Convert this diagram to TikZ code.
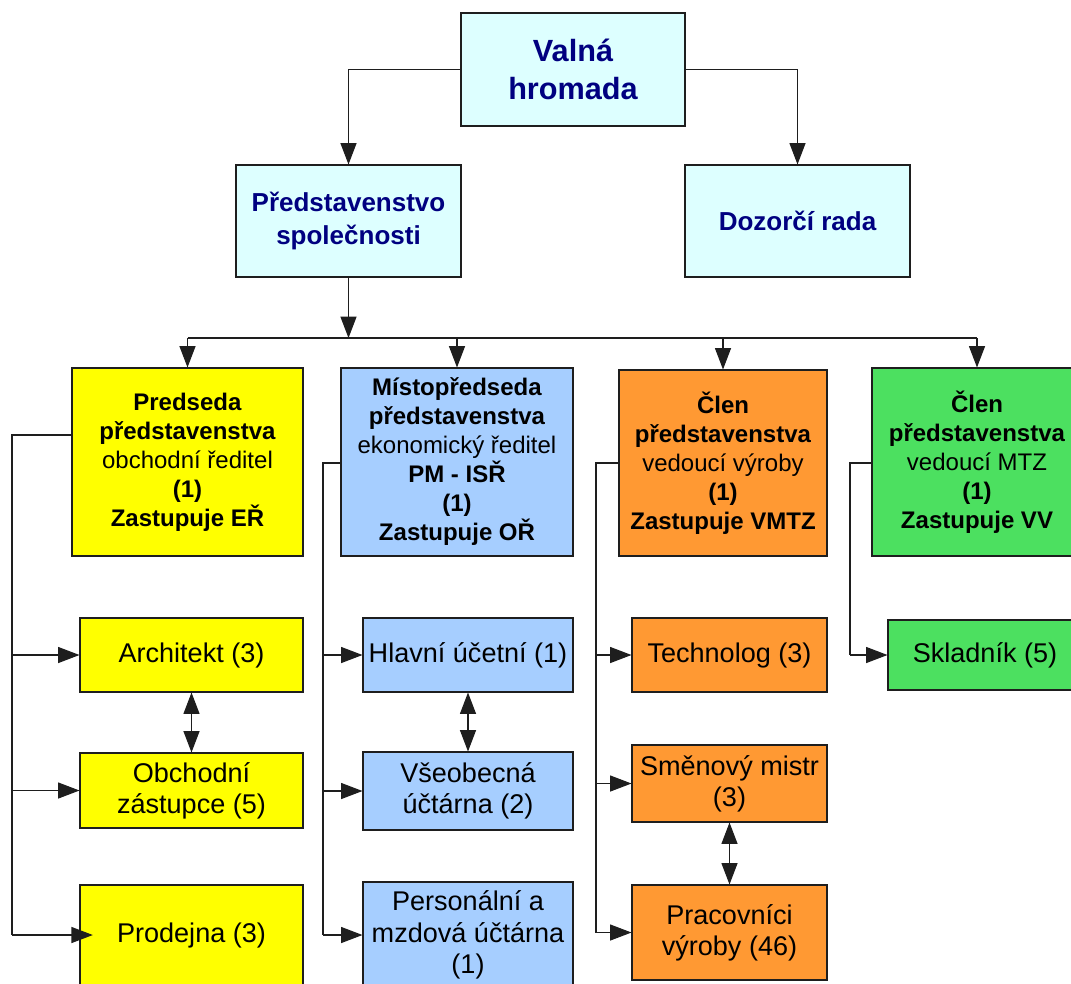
\documentclass[tikz,border=0pt]{standalone}
\usepackage{fontspec}
\setmainfont{Liberation Sans}
\usetikzlibrary{arrows.meta}
\definecolor{cyanfill}{RGB}{221,255,255}
\definecolor{navytxt}{RGB}{0,0,128}
\definecolor{yel}{RGB}{255,255,0}
\definecolor{blu}{RGB}{166,206,255}
\definecolor{ora}{RGB}{255,153,51}
\definecolor{grn}{RGB}{76,224,96}
\definecolor{edge}{RGB}{30,30,30}
\tikzset{
  sz/.style 2 args={minimum width=#1*0.75pt, minimum height=#2*0.75pt},
  box/.style={draw=edge, line width=0.8pt, inner sep=2pt, align=center, text=black},
  topbox/.style={box, fill=cyanfill, text=navytxt, font=\bfseries\fontsize{19.5}{24.75}\selectfont},
  midbox/.style={box, font=\fontsize{18}{21.75}\selectfont},
  lowbox/.style={box, font=\fontsize{20.3}{23.5}\selectfont},
  line/.style={draw=edge, line width=0.8pt},
  arr/.style={line, -{Triangle[length=16pt,width=12pt]}},
  darr/.style={line, {Triangle[length=16pt,width=12pt]}-{Triangle[length=16pt,width=12pt]}}
}
\begin{document}
\begin{tikzpicture}[x=0.75pt,y=-0.75pt]
\useasboundingbox (0,0) rectangle (1071,983);
\clip (0,0) rectangle (1071,983);
\fill[white] (0,0) rectangle (1071,983);

% top level
\node[topbox, sz={224}{113}, font=\bfseries\fontsize{23}{28.5}\selectfont] (vh) at (573,69.5) {Valná\\hromada};
\node[topbox, sz={225}{112}] (ps) at (348.5,221) {Představenstvo\\společnosti};
\node[topbox, sz={225}{112}] (dr) at (797.5,221) {Dozorčí rada};

% second level
\node[midbox, fill=yel, sz={231}{188}] (pred) at (187.5,462) {\textbf{Predseda}\\\textbf{představenstva}\\obchodní ředitel\\\textbf{(1)}\\\textbf{Zastupuje EŘ}};
\node[midbox, fill=blu, sz={232}{188}] (mist) at (457,462) {\textbf{Místopředseda}\\\textbf{představenstva}\\ekonomický ředitel\\\textbf{PM - ISŘ}\\\textbf{(1)}\\\textbf{Zastupuje OŘ}};
\node[midbox, fill=ora, sz={208}{186}] (clv) at (723,463) {\textbf{Člen}\\\textbf{představenstva}\\vedoucí výroby\\\textbf{(1)}\\\textbf{Zastupuje VMTZ}};
\node[midbox, fill=grn, sz={210}{188}] (clm) at (977,462) {\textbf{Člen}\\\textbf{představenstva}\\vedoucí MTZ\\\textbf{(1)}\\\textbf{Zastupuje VV}};

% third level
\node[lowbox, fill=yel, sz={223}{74}] (arch) at (191.5,655) {Architekt (3)};
\node[lowbox, fill=yel, sz={223}{75}] (obch) at (191.5,790.5) {Obchodní\\zástupce (5)};
\node[lowbox, fill=yel, sz={223}{100}] (prod) at (191.5,935) {Prodejna (3)};
\node[lowbox, fill=blu, sz={210}{74}] (hlav) at (468,655) {Hlavní účetní (1)};
\node[lowbox, fill=blu, sz={210}{78}] (vseo) at (468,791) {Všeobecná\\účtárna (2)};
\node[lowbox, fill=blu, sz={210}{106}] (pers) at (468,935) {Personální a\\mzdová účtárna\\(1)};
\node[lowbox, fill=ora, sz={195}{74}] (tech) at (729.5,655) {Technolog (3)};
\node[lowbox, fill=ora, sz={195}{77}] (smen) at (729.5,783.5) {Směnový mistr\\(3)};
\node[lowbox, fill=ora, sz={195}{95}] (prac) at (729.5,932.5) {Pracovníci\\výroby (46)};
\node[lowbox, fill=grn, sz={194}{70}] (skla) at (985,655) {Skladník (5)};

% top connectors
\draw[arr] (vh.west) -| (ps.north);
\draw[arr] (vh.east) -| (dr.north);

% bus
\coordinate (bus) at (348.5,338);
\draw[arr] (ps.south) -- (bus);
\draw[line] (pred.north |- bus) -- (clm.north |- bus);
\draw[arr] (pred.north |- bus) -- (pred.north);
\draw[arr] (mist.north |- bus) -- (mist.north);
\draw[arr] (clv.north |- bus) -- (clv.north);
\draw[arr] (clm.north |- bus) -- (clm.north);

% yellow branch
\coordinate (ya) at (12,435);
\draw[line] (pred.west |- ya) -- (ya) -- (ya |- prod.west);
\draw[arr] (ya |- arch.west) -- (arch.west);
\draw[arr] (ya |- obch.west) -- (obch.west);
\draw[arr, shorten >=-10pt] (ya |- prod.west) -- (prod.west);
\draw[darr] (arch.south) -- (obch.north);

% blue branch
\coordinate (ba) at (323,463);
\draw[line] (mist.west |- ba) -- (ba) -- (ba |- pers.west);
\draw[arr] (ba |- hlav.west) -- (hlav.west);
\draw[arr] (ba |- vseo.west) -- (vseo.west);
\draw[arr] (ba |- pers.west) -- (pers.west);
\draw[darr] (hlav.south) -- (vseo.north);

% orange branch
\coordinate (oa) at (596,463);
\draw[line] (clv.west |- oa) -- (oa) -- (oa |- prac.west);
\draw[arr] (oa |- tech.west) -- (tech.west);
\draw[arr] (oa |- smen.west) -- (smen.west);
\draw[arr] (oa |- prac.west) -- (prac.west);
\draw[darr] (smen.south) -- (prac.north);

% green branch
\coordinate (ga) at (850,463);
\draw[line] (clm.west |- ga) -- (ga) -- (ga |- skla.west);
\draw[arr] (ga |- skla.west) -- (skla.west);
\end{tikzpicture}
\end{document}
